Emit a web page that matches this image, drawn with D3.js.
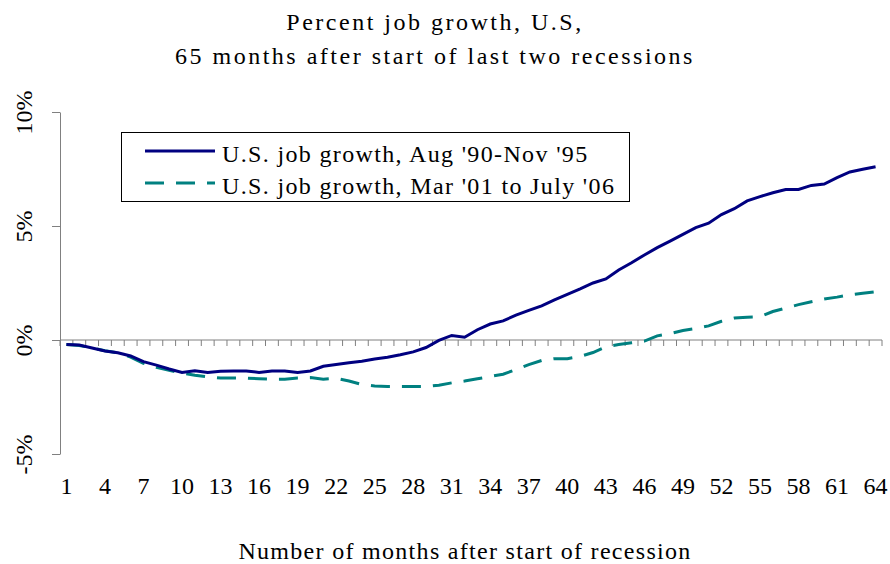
<!DOCTYPE html>
<html>
<head>
<meta charset="utf-8">
<script src="https://cdn.jsdelivr.net/npm/d3@7"></script>
<style>
  body { margin: 0; background: #fff; }
  text { font-family: "Liberation Serif", "Times New Roman", serif; fill: #000; }
</style>
</head>
<body>
<div id="chart"></div>
<script>

var months = d3.range(1, 65);

// Aug '90 - Nov '95, percent change from start
var growth90 = [-0.2, -0.22, -0.35, -0.48, -0.56, -0.7, -0.95, -1.1, -1.27, -1.42,
    -1.35, -1.42, -1.37, -1.36, -1.36, -1.42, -1.36, -1.36, -1.42, -1.36,
    -1.15, -1.07, -1.0, -0.93, -0.83, -0.76, -0.65, -0.52, -0.33, -0.02,
    0.2, 0.12, 0.45, 0.7, 0.84, 1.09, 1.3, 1.5, 1.76, 2.0,
    2.24, 2.5, 2.68, 3.07, 3.39, 3.73, 4.05, 4.34, 4.63, 4.93,
    5.12, 5.5, 5.76, 6.1, 6.29, 6.46, 6.6, 6.6, 6.78, 6.84,
    7.12, 7.37, 7.49, 7.6];

// Mar '01 - July '06
var growth01 = [-0.2, -0.24, -0.35, -0.47, -0.56, -0.75, -1.02, -1.2, -1.33, -1.45,
    -1.55, -1.62, -1.67, -1.67, -1.67, -1.7, -1.72, -1.72, -1.67, -1.65,
    -1.72, -1.68, -1.8, -1.95, -2.02, -2.04, -2.04, -2.04, -2.04, -1.98,
    -1.88, -1.8, -1.7, -1.6, -1.5, -1.3, -1.08, -0.9, -0.82, -0.82,
    -0.72, -0.55, -0.3, -0.2, -0.12, -0.05, 0.18, 0.28, 0.42, 0.5,
    0.62, 0.82, 0.96, 1.0, 1.02, 1.25, 1.4, 1.55, 1.68, 1.8,
    1.88, 1.98, 2.05, 2.12];

var xLabels = [1, 4, 7, 10, 13, 16, 19, 22, 25, 28, 31, 34, 37, 40, 43, 46, 49, 52, 55, 58, 61, 64];
var yTicks = [-5, 0, 5, 10];

var seriesNames = ["U.S. job growth, Aug '90-Nov '95", "U.S. job growth, Mar '01 to July '06"];
var titleLines = ["Percent job growth, U.S,", "65 months after start of last two recessions"];
var xTitle = "Number of months after start of recession";

var width = 890;
var height = 564;
var margin = { top: 112, right: 8, bottom: 110, left: 60 }

var svg = d3.select("#chart").append("svg")
    .attr("width", width)
    .attr("height", height);

var x = d3.scaleBand()
    .domain(months)
    .range([margin.left, width - margin.right])

var y = d3.scaleLinear()
    .domain([-5, 10])
    .range([height - margin.bottom, margin.top])

function cx(m) { return x(m) + x.bandwidth() / 2; }

// title
svg.selectAll(".title")
    .data(titleLines)
    .enter().append("text")
    .attr("class", "title")
    .attr("x", 435)
    .attr("y", function (d, i) { return 30 + i * 34 })
    .attr("text-anchor", "middle")
    .attr("font-size", 24)
    .attr("letter-spacing", 2.5)
    .text(d => d);

// y axis
svg.append("g")
    .attr("transform", `translate(${margin.left},0)`)
    .call(d3.axisLeft(y).tickValues(yTicks).tickSize(8).tickSizeOuter(0).tickFormat(d => d + "%"))
    .call(g => g.select(".domain").attr("stroke", "#808080"))
    .call(g => g.selectAll(".tick line").attr("stroke", "#808080"))
    .call(g => g.selectAll(".tick text")
        .attr("font-size", 24)
        .attr("font-family", "Liberation Serif")
        .attr("fill", "#000")
        .attr("text-anchor", "middle")
        .attr("x", null).attr("dy", null)
        .attr("transform", "translate(-28,0) rotate(-90)"));

// x axis on zero line, tick marks on month boundaries
var xg = svg.append("g")
    .attr("transform", `translate(0,${y(0)})`);

xg.append("line")
    .attr("x1", x.range()[0])
    .attr("x2", x.range()[1])
    .attr("stroke", "#808080");

xg.selectAll(".mtick")
    .data(months.concat([null]))
    .enter().append("line")
    .attr("class", "mtick")
    .attr("x1", d => d == null ? x.range()[1] : x(d))
    .attr("x2", d => d == null ? x.range()[1] : x(d))
    .attr("y1", 0)
    .attr("y2", 6)
    .attr("stroke", "#808080");

svg.selectAll(".xlab")
    .data(xLabels)
    .enter().append("text")
    .attr("class", "xlab")
    .attr("x", d => cx(d))
    .attr("y", 494)
    .attr("text-anchor", "middle")
    .attr("font-size", 24)
    .text(d => d);

svg.append("text")
    .attr("x", 465)
    .attr("y", 559)
    .attr("text-anchor", "middle")
    .attr("font-size", 24)
    .attr("letter-spacing", 1.3)
    .text(xTitle);

var line = d3.line()
    .x(function (d, i) { return cx(months[i]) })
    .y(function (d) { return y(d) });

svg.append("path")
    .datum(growth01)
    .attr("fill", "none")
    .attr("stroke", "#008080")
    .attr("stroke-width", 3)
    .attr("stroke-dasharray", "19,12")
    .attr("d", line);

svg.append("path")
    .datum(growth90)
    .attr("fill", "none")
    .attr("stroke", "#000080")
    .attr("stroke-width", 3)
    .attr("d", line);

// legend
var legend = svg.append("g");
legend.append("rect")
    .attr("x", 121.5)
    .attr("y", 132.5)
    .attr("width", 508)
    .attr("height", 69)
    .attr("fill", "#fff")
    .attr("stroke", "#000");

var colors = ["#000080", "#008080"];
var dashes = [null, "19,12"];
seriesNames.forEach(function (name, i) {
    var ly = 151 + i * 32;
    legend.append("line")
        .attr("x1", 145).attr("x2", 215)
        .attr("y1", ly).attr("y2", ly)
        .attr("stroke", colors[i])
        .attr("stroke-width", 3)
        .attr("stroke-dasharray", dashes[i]);
    legend.append("text")
        .attr("x", 222)
        .attr("y", ly + 11)
        .attr("font-size", 24)
        .attr("letter-spacing", 1.35)
        .text(name);
});

</script>
</body>
</html>
